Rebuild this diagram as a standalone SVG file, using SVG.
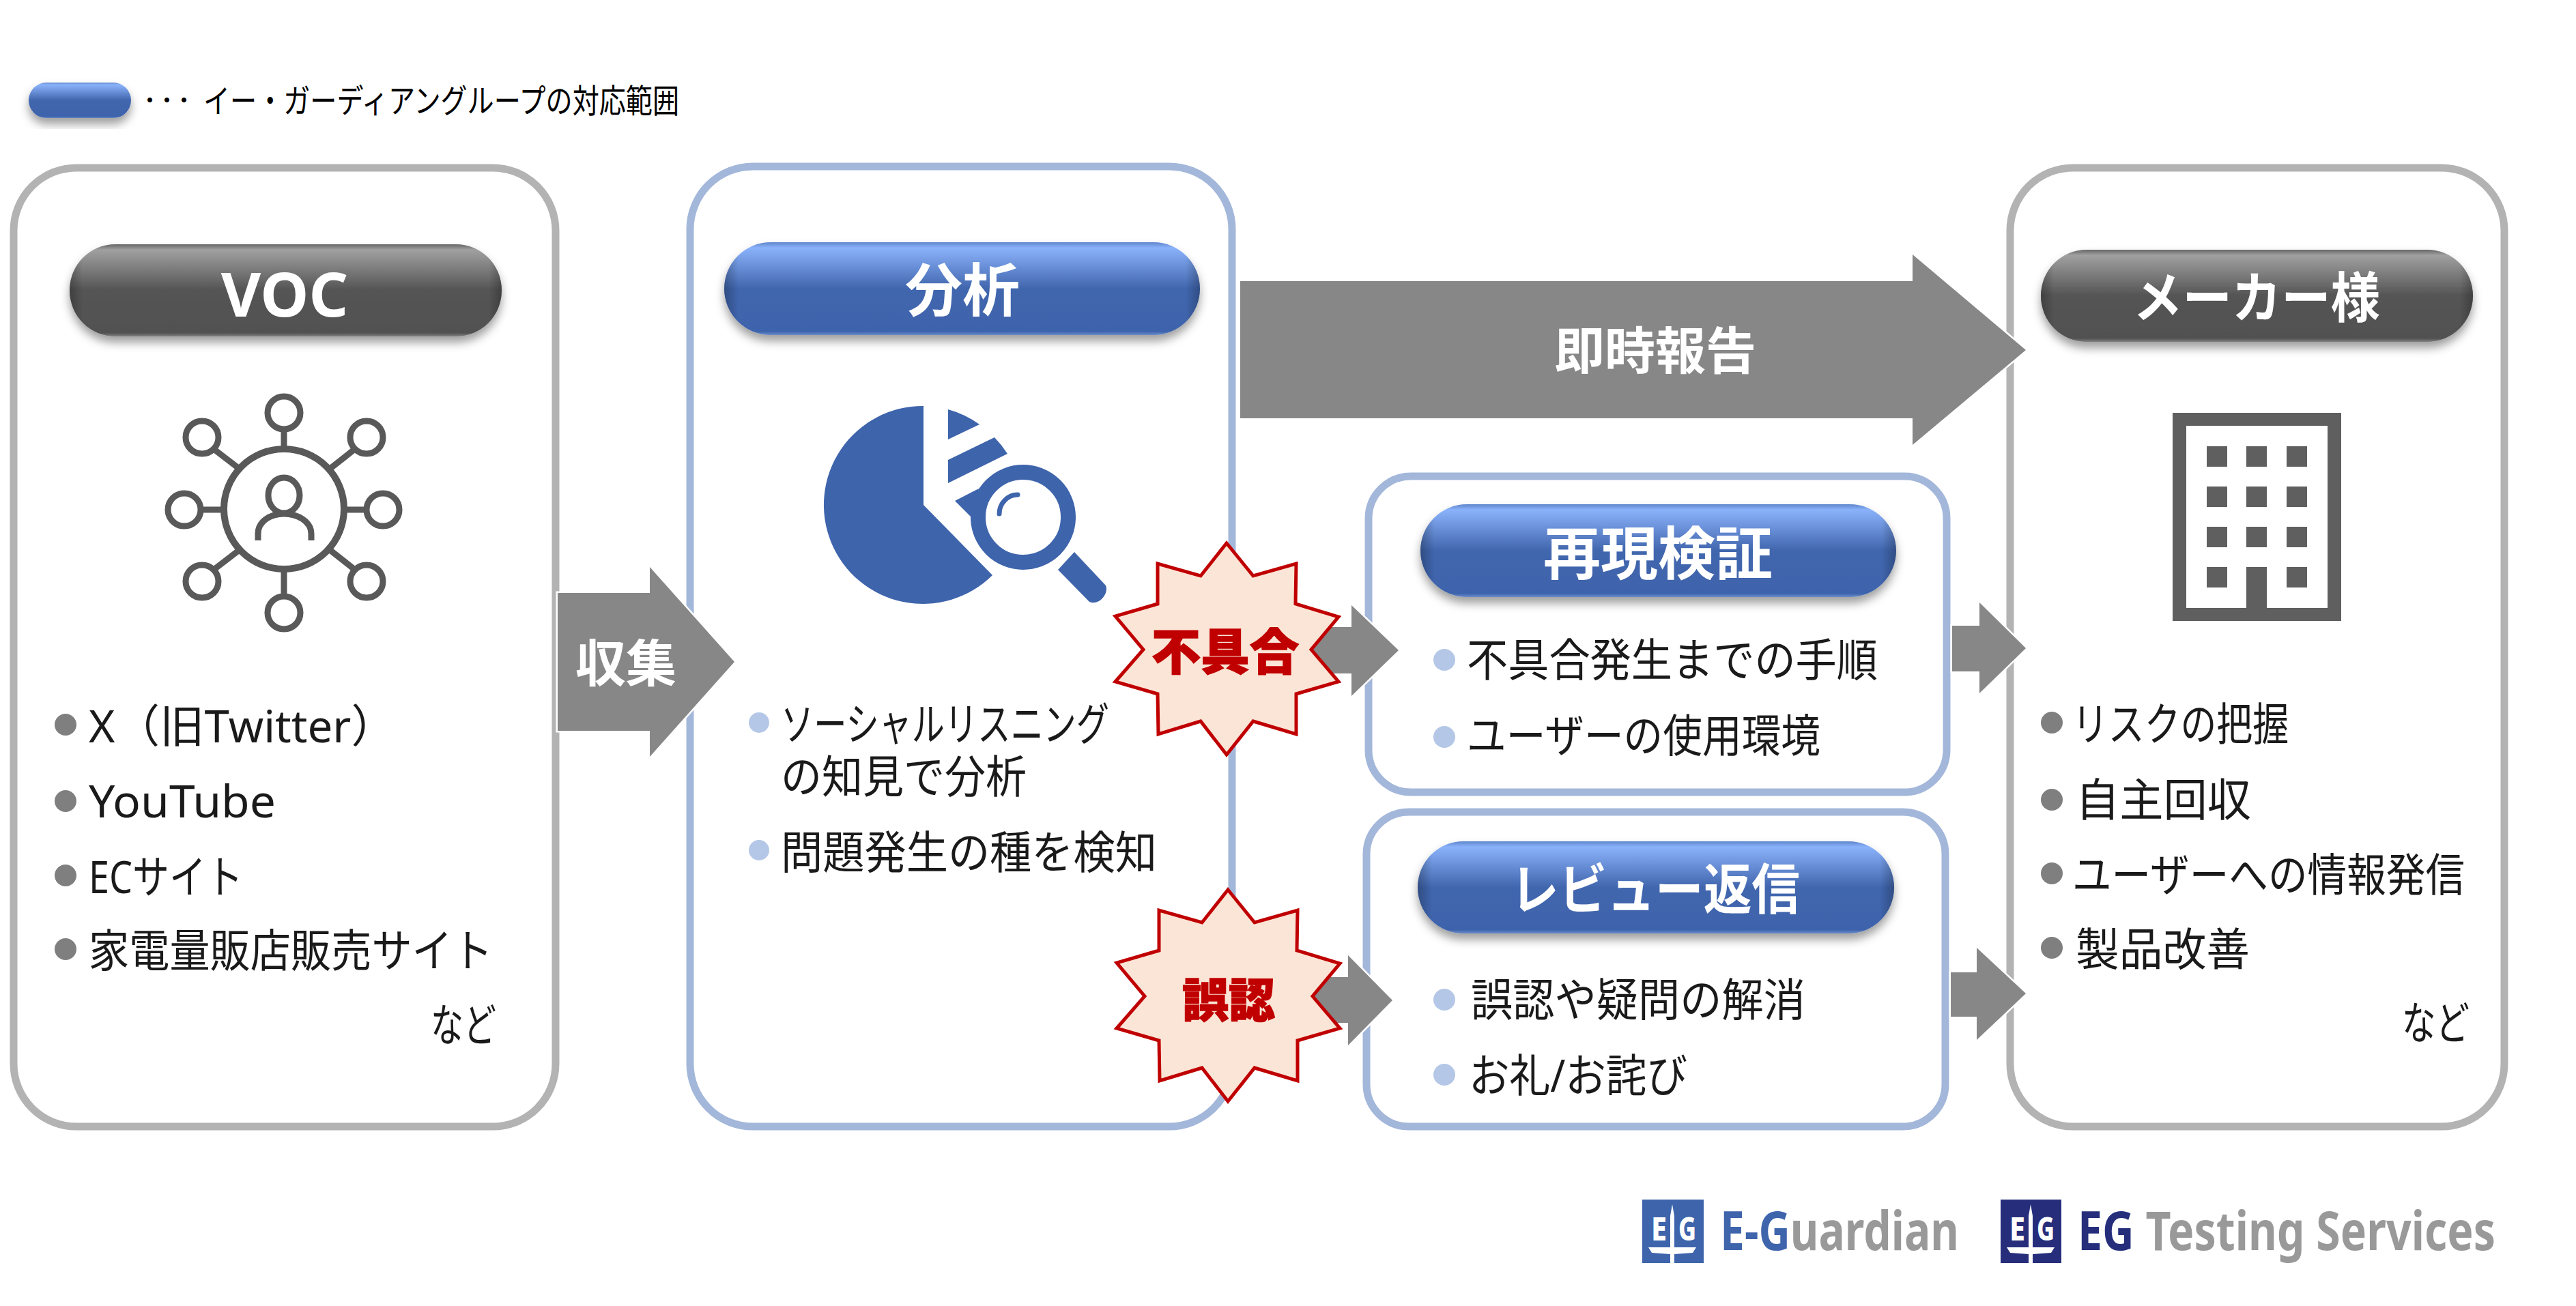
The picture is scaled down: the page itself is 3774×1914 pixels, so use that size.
<svg xmlns="http://www.w3.org/2000/svg" width="3774" height="1914" viewBox="0 0 3774 1914">
<style>
text{font-family:"Noto Sans","Noto Sans CJK JP",sans-serif;dominant-baseline:central}
.body{font-size:66px;fill:#1a1a1a}
.head{font-weight:700;fill:#fff;text-anchor:middle}
.warn{font-weight:900;fill:#C00000;text-anchor:middle;stroke:#C00000;stroke-width:1.5}
.pb{fill:#fff;stroke:#A3B7DA;stroke-width:11}
.pgf{fill:#fff;stroke:#B3B3B3;stroke-width:11}
.arrow{fill:#878787;stroke:#fff;stroke-width:5;paint-order:stroke}
.bg{fill:#7F7F7F}.bb{fill:#B4C7E7}
.star{fill:#FBE5D6;stroke:#C00000;stroke-width:5}
.ic{fill:none;stroke:#595959;stroke-width:10}
.blue{fill:url(#gb);filter:url(#sh)}
.dark{fill:url(#gd);filter:url(#sh)}
.edge{fill:url(#ge)}
.logo{font-weight:700;font-size:78px}
.le{font-weight:800;fill:#fff;font-size:48px}
</style>
<defs>
<linearGradient id="gb" x1="0" y1="0" x2="0" y2="1"><stop offset="0" stop-color="#5F86CC"/><stop offset=".06" stop-color="#8AB2FA"/><stop offset=".5" stop-color="#4166AE"/><stop offset=".96" stop-color="#3E64AC"/><stop offset="1" stop-color="#6A8CCB"/></linearGradient>
<linearGradient id="gd" x1="0" y1="0" x2="0" y2="1"><stop offset="0" stop-color="#666"/><stop offset=".06" stop-color="#A0A0A0"/><stop offset=".5" stop-color="#545454"/><stop offset=".96" stop-color="#515151"/><stop offset="1" stop-color="#808080"/></linearGradient>
<linearGradient id="ge" x1="0" y1="0" x2="1" y2="0"><stop offset="0" stop-color="#000" stop-opacity=".25"/><stop offset=".03" stop-color="#000" stop-opacity="0"/><stop offset=".97" stop-color="#000" stop-opacity="0"/><stop offset="1" stop-color="#000" stop-opacity=".25"/></linearGradient>
<filter id="sh" x="-10%" y="-20%" width="120%" height="150%"><feDropShadow dx="0" dy="9" stdDeviation="7" flood-color="#000" flood-opacity=".38"/></filter>
<polygon id="burst" points="1797,796 1836,844 1899,826 1898,885 1961,904 1921,952 1961,999 1899,1017 1899,1076 1836,1057 1797,1106 1759,1057 1697,1076 1696,1017 1634,999 1675,952 1634,903 1696,885 1696,826 1759,844"/>
<g id="eg"><path d="M44 7 L47 24 V70 L79 70 L74 78 L47 80 V95 L44 103 L41 95 V80 L14 78 L9 70 L41 70 V24Z" fill="#fff"/></g>
</defs>
<rect width="3774" height="1914" fill="#fff"/>

<g id="legend">
<rect x="42" y="121" width="150" height="52" rx="26" class="blue"/>
<text x="207" y="146" font-size="25" font-weight="900" fill="#000">・・・</text>
<text x="298" y="146" font-size="48" fill="#000" textLength="697" lengthAdjust="spacingAndGlyphs">イー・ガーディアングループの対応範囲</text>
</g>

<g id="panel-voc">
<rect x="20" y="246" width="794" height="1405" rx="92" class="pgf"/>
<rect x="102" y="358" width="633" height="135" rx="67" class="dark"/>
<rect x="102" y="358" width="633" height="135" rx="67" class="edge"/>
<text x="417" y="429" font-size="90" class="head">VOC</text>
<g id="icon-voc" stroke-linecap="butt">
<circle cx="416" cy="746" r="88" class="ic"/>
<g class="ic" style="stroke-width:9">
<circle cx="416" cy="605" r="24"/><circle cx="296" cy="641" r="24"/><circle cx="537" cy="641" r="24"/><circle cx="270" cy="747" r="24"/><circle cx="561" cy="747" r="24"/><circle cx="296" cy="852" r="24"/><circle cx="537" cy="852" r="24"/><circle cx="416" cy="898" r="24"/>
<path d="M416 629V660M416 832V874M294 747H330M502 747H537M313 658L352 688M520 658L482 688M313 835L352 805M520 835L482 805"/>
<ellipse cx="416" cy="726" rx="23" ry="26"/>
<path d="M378 792V782C378 765 395 753 416 753C437 753 456 765 456 782V792"/>
</g>
</g>
<circle cx="96" cy="1062" r="16" class="bg"/><circle cx="96" cy="1174" r="16" class="bg"/><circle cx="96" cy="1283" r="16" class="bg"/><circle cx="96" cy="1391" r="16" class="bg"/>
<text x="130" y="1062" class="body" textLength="450" lengthAdjust="spacingAndGlyphs">X（旧Twitter）</text>
<text x="130" y="1172" class="body" textLength="274" lengthAdjust="spacingAndGlyphs">YouTube</text>
<text x="130" y="1283" class="body" textLength="226" lengthAdjust="spacingAndGlyphs">ECサイト</text>
<text x="130" y="1391" class="body" textLength="592" lengthAdjust="spacingAndGlyphs">家電量販店販売サイト</text>
<text x="631" y="1500" class="body" textLength="96" lengthAdjust="spacingAndGlyphs">など</text>
</g>

<g id="panel-analysis">
<rect x="1011" y="244" width="794" height="1407" rx="92" class="pb"/>
<rect x="1061" y="355" width="697" height="136" rx="68" class="blue"/>
<rect x="1061" y="355" width="697" height="136" rx="68" class="edge"/>
<text x="1410" y="423" font-size="84" class="head">分析</text>
<g id="icon-analysis" fill="#3E64AC">
<path d="M1353 740V595A145 145 0 1 0 1454 843Z"/>
<path d="M1389 600A145 145 0 0 1 1435 622L1389 644Z"/>
<path d="M1389 674L1457 641A145 145 0 0 1 1476 665L1389 708Z"/>
<path d="M1399 734L1434 716L1422 757Z"/>
<circle cx="1499" cy="758" r="72" fill="#fff"/>
<circle cx="1499" cy="758" r="66" fill="#fff" stroke="#3E64AC" stroke-width="22"/>
<path d="M1464 753C1464 738 1476 725 1491 725" fill="none" stroke="#3E64AC" stroke-width="7" stroke-linecap="round"/>
<path d="M1574 809L1620 858C1625 870 1610 888 1596 882L1550 835Z"/>
</g>
<circle cx="1112" cy="1059" r="15" class="bb"/><circle cx="1112" cy="1246" r="15" class="bb"/>
<text x="1144" y="1059" class="body" textLength="481" lengthAdjust="spacingAndGlyphs">ソーシャルリスニング</text>
<text x="1144" y="1136" class="body" textLength="360" lengthAdjust="spacingAndGlyphs">の知見で分析</text>
<text x="1144" y="1247" class="body" textLength="551" lengthAdjust="spacingAndGlyphs">問題発生の種を検知</text>
</g>

<g id="panel-repro">
<rect x="2005" y="698" width="847" height="463" rx="62" class="pb"/>
<rect x="2081" y="739" width="697" height="136" rx="68" class="blue"/>
<rect x="2081" y="739" width="697" height="136" rx="68" class="edge"/>
<text x="2429" y="809" font-size="84" class="head">再現検証</text>
<circle cx="2116" cy="967" r="16" class="bb"/><circle cx="2116" cy="1080" r="16" class="bb"/>
<text x="2149" y="965" class="body" textLength="602" lengthAdjust="spacingAndGlyphs">不具合発生までの手順</text>
<text x="2149" y="1076" class="body" textLength="518" lengthAdjust="spacingAndGlyphs">ユーザーの使用環境</text>
</g>

<g id="panel-review">
<rect x="2002" y="1190" width="848" height="461" rx="62" class="pb"/>
<rect x="2077" y="1233" width="698" height="135" rx="67" class="blue"/>
<rect x="2077" y="1233" width="698" height="135" rx="67" class="edge"/>
<text x="2425" y="1300" font-size="80" class="head" textLength="424" lengthAdjust="spacingAndGlyphs">レビュー返信</text>
<circle cx="2116" cy="1465" r="16" class="bb"/><circle cx="2116" cy="1575" r="16" class="bb"/>
<text x="2155" y="1463" class="body" textLength="490" lengthAdjust="spacingAndGlyphs">誤認や疑問の解消</text>
<text x="2152" y="1574" class="body" textLength="320" lengthAdjust="spacingAndGlyphs">お礼/お詫び</text>
</g>

<g id="panel-maker">
<rect x="2945" y="246" width="724" height="1405" rx="92" class="pgf"/>
<rect x="2990" y="366" width="633" height="135" rx="67" class="dark"/>
<rect x="2990" y="366" width="633" height="135" rx="67" class="edge"/>
<text x="3306" y="433" font-size="80" class="head" textLength="362" lengthAdjust="spacingAndGlyphs">メーカー様</text>
<g id="icon-maker" fill="#5F5F5F">
<path fill-rule="evenodd" d="M3183 605H3430V910H3183ZM3203 624V891H3291V831H3321V891H3410V624Z"/>
<rect x="3233" y="654" width="30" height="30"/><rect x="3291" y="654" width="30" height="30"/><rect x="3350" y="654" width="30" height="30"/>
<rect x="3233" y="713" width="30" height="30"/><rect x="3291" y="713" width="30" height="30"/><rect x="3350" y="713" width="30" height="30"/>
<rect x="3233" y="772" width="30" height="30"/><rect x="3291" y="772" width="30" height="30"/><rect x="3350" y="772" width="30" height="30"/>
<rect x="3233" y="831" width="30" height="30"/><rect x="3350" y="831" width="30" height="30"/>
</g>
<circle cx="3006" cy="1059" r="16" class="bg"/><circle cx="3006" cy="1172" r="16" class="bg"/><circle cx="3006" cy="1280" r="16" class="bg"/><circle cx="3006" cy="1389" r="16" class="bg"/>
<text x="3036" y="1059" class="body" textLength="317" lengthAdjust="spacingAndGlyphs">リスクの把握</text>
<text x="3041" y="1170" class="body" textLength="257" lengthAdjust="spacingAndGlyphs">自主回収</text>
<text x="3036" y="1280" class="body" textLength="575" lengthAdjust="spacingAndGlyphs">ユーザーへの情報発信</text>
<text x="3041" y="1389" class="body" textLength="255" lengthAdjust="spacingAndGlyphs">製品改善</text>
<text x="3519" y="1497" class="body" textLength="99" lengthAdjust="spacingAndGlyphs">など</text>
</g>

<g id="connectors">
<polygon class="arrow" points="817,869 952,869 952,831 1076,970 952,1109 952,1071 817,1071"/>
<text x="917" y="970" font-size="74" class="head">収集</text>
<polygon class="arrow" points="1817,412 2802,412 2802,373 2968,513 2802,652 2802,613 1817,613"/>
<text x="2425" y="512" font-size="74" class="head">即時報告</text>
<polygon class="arrow" points="1900,919 1980,919 1980,887 2049,953 1980,1020 1980,987 1900,987"/>
<polygon class="arrow" points="1900,1432 1975,1432 1975,1400 2040,1466 1975,1532 1975,1499 1900,1499"/>
<polygon class="arrow" points="2860,917 2900,917 2900,883 2968,950 2900,1016 2900,984 2860,984"/>
<polygon class="arrow" points="2858,1425 2896,1425 2896,1389 2968,1456 2896,1524 2896,1490 2858,1490"/>
</g>

<g id="burst-defect">
<use href="#burst" class="star"/>
<text x="1795" y="953" font-size="72" class="warn">不具合</text>
</g>
<g id="burst-misread">
<use href="#burst" class="star" transform="translate(2 508)"/>
<text x="1800" y="1464" font-size="68" class="warn">誤認</text>
</g>

<g id="logo-eguardian">
<rect x="2406" y="1758" width="90" height="93" fill="#3E64AC"/>
<use href="#eg" x="2406" y="1758"/>
<text x="2419" y="1799" class="le" textLength="23" lengthAdjust="spacingAndGlyphs">E</text><text x="2459" y="1799" class="le" textLength="26" lengthAdjust="spacingAndGlyphs">G</text>
<text x="2520" y="1802" class="logo" textLength="350" lengthAdjust="spacingAndGlyphs"><tspan fill="#3E64AC">E-G</tspan><tspan fill="#999">uardian</tspan></text>
</g>
<g id="logo-egts">
<rect x="2931" y="1758" width="89" height="93" fill="#262E7C"/>
<use href="#eg" x="2931" y="1758"/>
<text x="2944" y="1799" class="le" textLength="23" lengthAdjust="spacingAndGlyphs">E</text><text x="2984" y="1799" class="le" textLength="26" lengthAdjust="spacingAndGlyphs">G</text>
<text x="3044" y="1802" class="logo" textLength="612" lengthAdjust="spacingAndGlyphs"><tspan fill="#262E7C">EG </tspan><tspan fill="#999">Testing Services</tspan></text>
</g>
</svg>
